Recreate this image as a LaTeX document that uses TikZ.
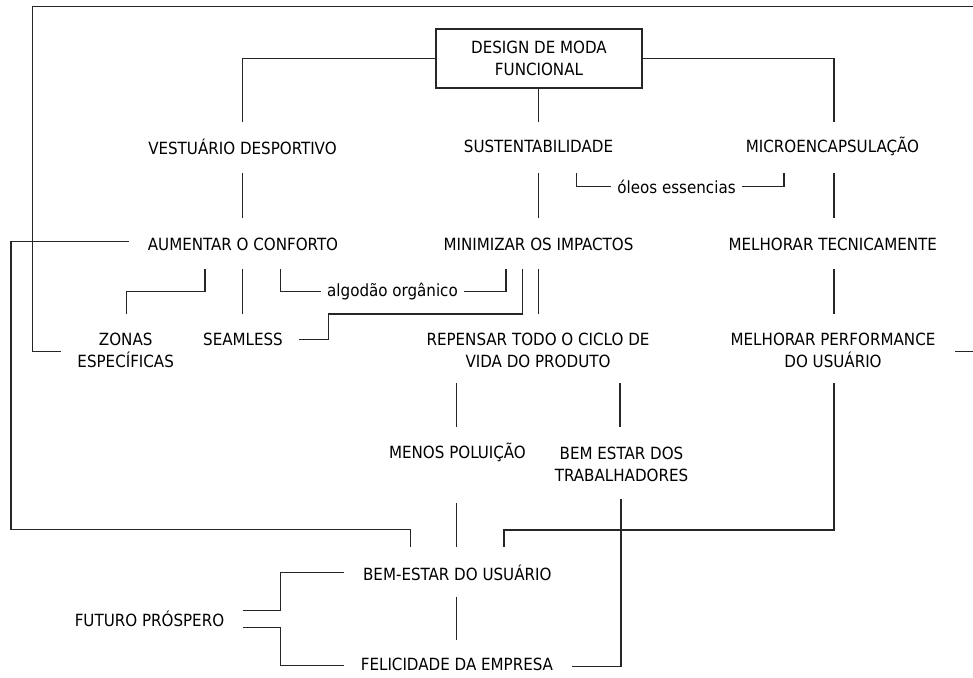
\documentclass[tikz,border=0pt]{standalone}
\usepackage{fontspec}
\setmainfont{DejaVu Sans Condensed}
\begin{document}
\begin{tikzpicture}[x=1pt,y=-1pt,
  lbl/.style={align=center,inner sep=0pt,font=\fontsize{16.8}{22}\selectfont},
  ln/.style={line width=1.3pt,black!85}]
\useasboundingbox (0,0) rectangle (973,677);
% main box
\node[draw,line width=1.3pt,black!85,text=black,minimum width=206pt,minimum height=59pt,inner sep=0pt,align=center,font=\fontsize{16.8}{22}\selectfont] (main) at (539,58.5) {DESIGN DE MODA\\FUNCIONAL};
% row 1
\node[lbl] (vest) at (242.5,146.7) {VESTUÁRIO DESPORTIVO};
\node[lbl] (sust) at (538.5,146.7) {SUSTENTABILIDADE};
\node[lbl] (micro) at (832.5,146.7) {MICROENCAPSULAÇÃO};
\node[lbl] (oleos) at (676.5,186.5) {óleos essencias};
% row 2
\node[lbl] (aum) at (243,244) {AUMENTAR O CONFORTO};
\node[lbl] (mini) at (538.5,244) {MINIMIZAR OS IMPACTOS};
\node[lbl] (tec) at (832.8,244) {MELHORAR TECNICAMENTE};
\node[lbl] (alg) at (392.5,291.7) {algodão orgânico};
% row 3
\node[lbl] (zonas) at (125.7,350) {ZONAS\\ESPECÍFICAS};
\node[lbl] (seam) at (243,339.3) {SEAMLESS};
\node[lbl] (rep) at (538,350) {REPENSAR TODO O CICLO DE\\VIDA DO PRODUTO};
\node[lbl] (perf) at (833,350) {MELHORAR PERFORMANCE\\DO USUÁRIO};
% row 4
\node[lbl] (menos) at (457.5,452.7) {MENOS POLUIÇÃO};
\node[lbl] (trab) at (621.5,464) {BEM ESTAR DOS\\TRABALHADORES};
% row 5
\node[lbl] (bem) at (457.3,572.7) {BEM-ESTAR DO USUÁRIO};
\node[lbl] (fut) at (149.5,619) {FUTURO PRÓSPERO};
\node[lbl] (fel) at (457,664) {FELICIDADE DA EMPRESA};

% connectors
\draw[ln] (main.west |- 0,58.7) -- (242.7,58.7) -- (242.7,121.7);
\draw[ln] (main.east |- 0,58.7) -- (834,58.7) -- (834,121.7);
\draw[ln] (main.south -| 538.7,0) -- (538.7,121.7);
\draw[ln] (242.7,173) -- (242.7,218);
\draw[ln] (538.5,173) -- (538.5,218);
\draw[ln] (834,173) -- (834,218);
\draw[ln] (576.7,173) -- (576.7,186.7) -- ([xshift=-6pt]oleos.west |- 0,186.7);
\draw[ln] ([xshift=6pt]oleos.east |- 0,186.7) -- (784,186.7) -- (784,173);
% outer frame line
\draw[ln] (60.7,351.7) -- (32.5,351.7) -- (32.5,6.5) -- (973,6.5);
\draw[ln] (955,351.7) -- (973,351.7);
% from aumentar to bem-estar
\draw[ln] (129,241.7) -- (11,241.7) -- (11,529.5) -- (410.7,529.5) -- (410.7,546.7);
% under aumentar
\draw[ln] (205,269.3) -- (205,291.7) -- (126.7,291.7) -- (126.7,314);
\draw[ln] (242.7,269.3) -- (242.7,314);
\draw[ln] (280.7,269.3) -- (280.7,291.7) -- ([xshift=-6pt]alg.west |- 0,291.7);
\draw[ln] ([xshift=6pt]alg.east |- 0,291.7) -- (506,291.7) -- (506,269.3);
\draw[ln] (299,339.3) -- (328.3,339.3) -- (328.3,314) -- (522.7,314) -- (522.7,269.3);
\draw[ln] (538.3,269.3) -- (538.3,314);
\draw[ln] (834,269.3) -- (834,314);
% below row 3
\draw[ln] (456.7,383) -- (456.7,426.7);
\draw[ln] (620,383) -- (620,426.7);
\draw[ln] (834,383) -- (834,530) -- (504,530) -- (504,546.7);
\draw[ln] (621,499.3) -- (621,666.7) -- (571.7,666.7);
\draw[ln] (456.7,503.3) -- (456.7,546.7);
\draw[ln] (456.7,596.7) -- (456.7,640);
% futuro brackets
\draw[ln] (243.3,610.7) -- (280.7,610.7) -- (280.7,572.7) -- (344.3,572.7);
\draw[ln] (243.3,627.7) -- (280.7,627.7) -- (280.7,665.7) -- (344.3,665.7);
\end{tikzpicture}
\end{document}
